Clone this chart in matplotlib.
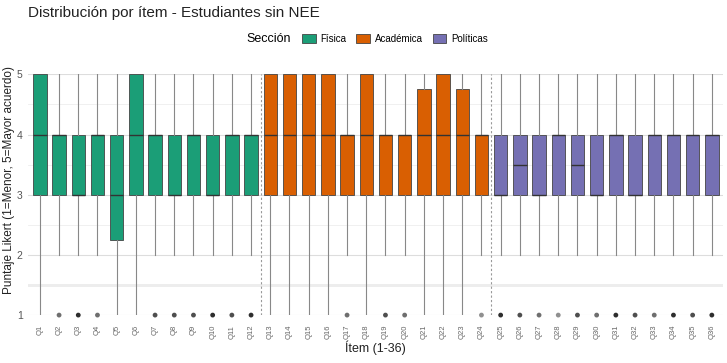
import numpy as np
import matplotlib.pyplot as plt
from matplotlib.patches import Patch
from matplotlib.offsetbox import HPacker

plt.rcParams['font.family'] = ['Liberation Sans', 'DejaVu Sans']

# data: box stats per item
items = ["Q%d" % i for i in range(1, 37)]
section = ["Física"] * 12 + ["Académica"] * 12 + ["Políticas"] * 12
q1 = [3, 3, 3, 3, 2.25, 3, 3, 3, 3, 3, 3, 3,
      3, 3, 3, 3, 3, 3, 3, 3, 3, 3, 3, 3,
      3, 3, 3, 3, 3, 3, 3, 3, 3, 3, 3, 3]
med = [4, 4, 3, 4, 3, 4, 4, 3, 4, 3, 4, 4,
       4, 4, 4, 4, 4, 4, 4, 4, 4, 4, 4, 4,
       3, 3.5, 3, 4, 3.5, 3, 4, 3, 4, 4, 4, 4]
q3 = [5, 4, 4, 4, 4, 5, 4, 4, 4, 4, 4, 4,
      5, 5, 5, 5, 4, 5, 4, 4, 4.75, 5, 4.75, 4,
      4, 4, 4, 4, 4, 4, 4, 4, 4, 4, 4, 4]
wlo = [1, 2, 2, 2, 1, 1, 2, 2, 2, 2, 2, 2,
       1, 1, 1, 1, 2, 1, 2, 2, 1, 1, 1, 2,
       2, 2, 2, 2, 2, 2, 2, 2, 2, 2, 2, 2]
whi = [5, 5, 5, 5, 5, 5, 5, 5, 5, 5, 5, 5,
       5, 5, 5, 5, 5, 5, 5, 5, 5, 5, 5, 5,
       5, 5, 5, 5, 5, 5, 5, 5, 5, 5, 5, 5]
outlier_1 = [0, 1, 1, 1, 0, 0, 1, 1, 1, 1, 1, 1,
             0, 0, 0, 0, 1, 0, 1, 1, 0, 0, 0, 1,
             1, 1, 1, 1, 1, 1, 1, 1, 1, 1, 1, 1]
# darker dots = more overlapping points
outlier_n = [0, 2, 4, 2, 0, 0, 3, 3, 3, 4, 3, 4,
             0, 0, 0, 0, 2, 0, 3, 2, 0, 0, 0, 1,
             4, 3, 2, 1, 3, 2, 4, 3, 2, 4, 3, 4]

colors = {"Física": "#1B9E77", "Académica": "#D95F02", "Políticas": "#7570B3"}

fig, ax = plt.subplots(figsize=(7.27, 3.63), dpi=100)
fig.subplots_adjust(left=0.039, right=0.995, top=0.795, bottom=0.132)

stats = []
for i in range(36):
    stats.append({"med": med[i], "q1": q1[i], "q3": q3[i],
                  "whislo": wlo[i], "whishi": whi[i],
                  "fliers": [1] if outlier_1[i] else [], "label": items[i]})

pos = np.arange(1, 37)
bp = ax.bxp(stats, positions=pos, widths=0.7, patch_artist=True, showfliers=False,
            showcaps=False, zorder=3,
            boxprops=dict(edgecolor="#444444", linewidth=0.6),
            medianprops=dict(color="#333333", linewidth=1.0),
            whiskerprops=dict(color="#888888", linewidth=0.8))
for patch, s in zip(bp["boxes"], section):
    patch.set_facecolor(colors[s])

for i in range(36):
    if outlier_1[i]:
        a = 0.35 + 0.15 * outlier_n[i]
        ax.scatter(pos[i], 1, s=12, color="#222222", alpha=min(a, 0.95),
                   edgecolors="none", zorder=4, clip_on=False)

for xv in [12.5, 24.5]:
    ax.axvline(xv, color="#999999", linestyle=(0, (2, 2)), linewidth=0.8, zorder=2)

ax.set_xlim(0.4, 36.6)
ax.set_ylim(1, 5)
ax.set_yticks([1, 2, 3, 4, 5])
ax.set_yticks([1.5, 2.5, 3.5, 4.5], minor=True)
ax.grid(axis="y", which="major", color="#dddddd", linewidth=0.8, zorder=0)
ax.grid(axis="y", which="minor", color="#eeeeee", linewidth=0.6, zorder=0)
ax.axhline(1.5, color="#e8e8e8", linewidth=1.8, zorder=0)
ax.set_axisbelow(True)
for sp in ax.spines.values():
    sp.set_visible(False)
ax.tick_params(axis="both", which="both", length=0)
ax.tick_params(axis="y", labelsize=7.5, colors="#555555", pad=4)
ax.set_xticks(pos)
ax.set_xticklabels(items, rotation=90, fontsize=5.5, color="#666666")
ax.tick_params(axis="x", pad=7)

ax.set_xlabel("Ítem (1-36)", fontsize=9, color="#222222", labelpad=1)
fig.text(9 / 727, 0.505, "Puntaje Likert (1=Menor, 5=Mayor acuerdo)", fontsize=8.5,
         color="#222222", rotation=90, ha="center", va="center")
fig.text(0.039, 0.963, "Distribución por ítem - Estudiantes sin NEE", fontsize=11,
         color="#222222", va="center")

handles = [Patch(facecolor=colors[k], edgecolor="#444444", linewidth=0.6) for k in colors]
leg = fig.legend(handles, list(colors.keys()), loc="center", bbox_to_anchor=(0.505, 0.893),
                 ncol=3, frameon=False, fontsize=7, handlelength=1.4, handleheight=1.1,
                 columnspacing=1.0, handletextpad=0.5, title="Sección",
                 title_fontsize=9)
# put the legend title at the left of the entries
title_box = leg._legend_title_box
handle_box = leg._legend_handle_box
leg._legend_box._children = [HPacker(children=[title_box, handle_box], pad=0, sep=8, align="center")]

fig.savefig("out.png", dpi=100)
